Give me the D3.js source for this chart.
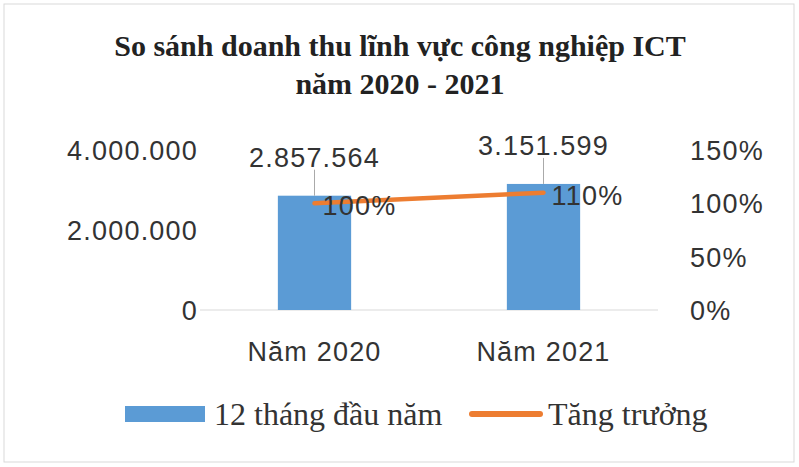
<!DOCTYPE html>
<html><head><meta charset="utf-8">
<script src="https://cdn.jsdelivr.net/npm/d3@7"></script>
<style>body{margin:0;background:#fff}</style>
</head><body><svg id="c" width="799" height="467"></svg>
<script>
const categories = ['Năm 2020', 'Năm 2021']
const revenue = [2857564, 3151599]
const growth = [1.00, 1.10]
const leftTicks = [0, 2000000, 4000000]
const rightTicks = [0, 0.5, 1, 1.5]

const svg = d3.select('#c')
const fmt = d => d3.format(',')(d).replace(/,/g, '.')

svg.append('rect').attr('x', 4).attr('y', 4).attr('width', 790).attr('height', 458)
	.attr('fill', '#fff').attr('stroke', '#d9d9d9')

const title = svg.append('text').attr('text-anchor', 'middle')
	.attr('font-family', 'Liberation Serif').attr('font-weight', 'bold').attr('font-size', 30).attr('fill', '#222')
title.append('tspan').attr('x', 400).attr('y', 56).text('So sánh doanh thu lĩnh vực công nghiệp ICT')
title.append('tspan').attr('x', 400).attr('y', 94).text('năm 2020 - 2021')

const x = d3.scaleBand().domain(categories).range([200, 658]).paddingInner(0.68).paddingOuter(0.34)
const y = d3.scaleLinear().domain([0, 4000000]).range([310, 150])
const y2 = d3.scaleLinear().domain([0, 1.5]).range([310, 150])

const font = 'Liberation Sans'
const txt = sel => sel.attr('font-family', font).attr('font-size', 27).attr('letter-spacing', 1.2).attr('fill', '#333')

svg.selectAll('.lt').data(leftTicks).join('text')
	.attr('x', 198).attr('y', d => y(d) + 10).attr('text-anchor', 'end')
	.call(txt).text(d => d === 0 ? '0' : fmt(d))
svg.selectAll('.rt').data(rightTicks).join('text')
	.attr('x', 690).attr('y', d => y2(d) + 10)
	.call(txt).text(d => d3.format('.0%')(d))

svg.append('line').attr('x1', 200).attr('x2', 658).attr('y1', 310).attr('y2', 310).attr('stroke', '#d9d9d9')

svg.selectAll('.bar').data(revenue).join('rect')
	.attr('x', (d, i) => x(categories[i])).attr('width', x.bandwidth())
	.attr('y', d => y(d)).attr('height', d => 310 - y(d)).attr('fill', '#5B9BD5')

const cx = i => x(categories[i]) + x.bandwidth() / 2

svg.selectAll('.lead').data(revenue).join('line')
	.attr('x1', (d, i) => cx(i)).attr('x2', (d, i) => cx(i))
	.attr('y1', d => y(d) - 26).attr('y2', d => y(d)).attr('stroke', '#aaa')
svg.selectAll('.vl').data(revenue).join('text')
	.attr('x', (d, i) => cx(i)).attr('y', d => y(d) - 29).attr('text-anchor', 'middle')
	.call(txt).text(fmt)

svg.append('path').datum(growth)
	.attr('d', d3.line().x((d, i) => cx(i)).y(d => y2(d)))
	.attr('fill', 'none').attr('stroke', '#ED7D31').attr('stroke-width', 4.5).attr('stroke-linecap', 'round')

svg.selectAll('.gl').data(growth).join('text')
	.attr('x', (d, i) => cx(i) + 8).attr('y', d => y2(d) + 12)
	.call(txt).text(d => d3.format('.0%')(d))

svg.selectAll('.cl').data(categories).join('text')
	.attr('x', (d, i) => cx(i)).attr('y', 361).attr('text-anchor', 'middle')
	.call(txt).text(d => d)

// legend
svg.append('rect').attr('x', 125).attr('y', 406).attr('width', 80).attr('height', 16).attr('fill', '#5B9BD5')
svg.append('text').attr('x', 214).attr('y', 425).attr('font-family', 'Liberation Serif').attr('font-size', 32)
	.attr('fill', '#333').text('12 tháng đầu năm')
svg.append('line').attr('x1', 472).attr('x2', 540).attr('y1', 414).attr('y2', 414)
	.attr('stroke', '#ED7D31').attr('stroke-width', 6).attr('stroke-linecap', 'round')
svg.append('text').attr('x', 548).attr('y', 425).attr('font-family', 'Liberation Serif').attr('font-size', 32)
	.attr('fill', '#333').text('Tăng trưởng')
</script></body></html>
